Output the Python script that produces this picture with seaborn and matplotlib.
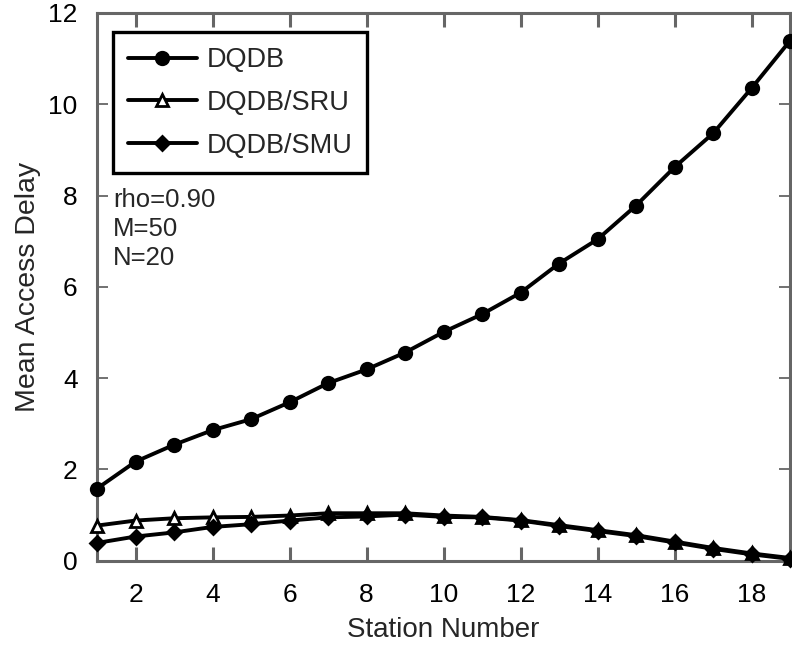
import numpy as np
import pandas as pd
import matplotlib
matplotlib.use("Agg")
import matplotlib.pyplot as plt
import seaborn as sns

stations = list(range(1, 20))
dqdb = [1.58, 2.17, 2.54, 2.86, 3.10, 3.47, 3.89, 4.19, 4.56, 5.01, 5.40, 5.87,
        6.51, 7.04, 7.78, 8.62, 9.36, 10.35, 11.39]
dqdb_sru = [0.77, 0.88, 0.93, 0.95, 0.96, 0.99, 1.04, 1.04, 1.04, 0.99, 0.96, 0.89,
            0.78, 0.67, 0.56, 0.42, 0.28, 0.16, 0.06]
dqdb_smu = [0.39, 0.53, 0.62, 0.74, 0.80, 0.88, 0.95, 0.97, 1.01, 0.96, 0.95, 0.88,
            0.76, 0.65, 0.54, 0.40, 0.26, 0.14, 0.04]
series_names = ["DQDB", "DQDB/SRU", "DQDB/SMU"]
annotation = "rho=0.90\nM=50\nN=20"

df = pd.DataFrame({
    "station": stations * 3,
    "delay": dqdb + dqdb_sru + dqdb_smu,
    "series": [series_names[0]] * 19 + [series_names[1]] * 19 + [series_names[2]] * 19,
})

sns.set_style("white")
plt.rcParams["font.family"] = ["Liberation Sans", "DejaVu Sans"]

fig = plt.figure(figsize=(7.92, 6.46), dpi=100)
ax = fig.add_axes([0.1225, 0.132, 0.875, 0.848])

styles = {
    "DQDB": dict(marker="o", mfc="black", ms=9),
    "DQDB/SRU": dict(marker="^", mfc="white", ms=9),
    "DQDB/SMU": dict(marker="D", mfc="black", ms=7.5),
}
for name in series_names:
    sub = df[df["series"] == name]
    st = styles[name]
    sns.lineplot(data=sub, x="station", y="delay", ax=ax, color="black",
                 linewidth=2.8, marker=st["marker"], markersize=st["ms"],
                 markerfacecolor=st["mfc"], markeredgecolor="black",
                 markeredgewidth=2, label=name, clip_on=False, zorder=3)

ax.set_xlim(1, 19)
ax.set_ylim(0, 12)
ax.set_xticks(range(2, 19, 2))
ax.set_yticks(range(0, 13, 2))
ax.tick_params(direction="in", colors="#666666", labelcolor="black",
               labelsize=19, top=True, right=True, left=True, bottom=True)
ax.tick_params(axis="x", length=10, width=2.2, pad=16)
ax.tick_params(axis="y", length=8, width=1.3, pad=14)
for s in ax.spines.values():
    s.set_color("#666666")
    s.set_linewidth(2.2)
ax.set_xlabel("Station Number", fontsize=20, labelpad=7)
ax.set_ylabel("Mean Access Delay", fontsize=20.5, labelpad=5)

leg = ax.legend(loc="upper left", bbox_to_anchor=(0.023, 0.965), fontsize=19.5,
                frameon=True, fancybox=False, handlelength=2.55,
                borderpad=0.55, labelspacing=0.62, handletextpad=0.35,
                borderaxespad=0)
leg.get_frame().set_edgecolor("black")
leg.get_frame().set_linewidth(2.4)
leg.get_frame().set_alpha(1)

ax.text(0.023, 0.68, annotation, transform=ax.transAxes, fontsize=18.5,
        va="top", ha="left", linespacing=1.25)

fig.savefig("out.png", dpi=100)
